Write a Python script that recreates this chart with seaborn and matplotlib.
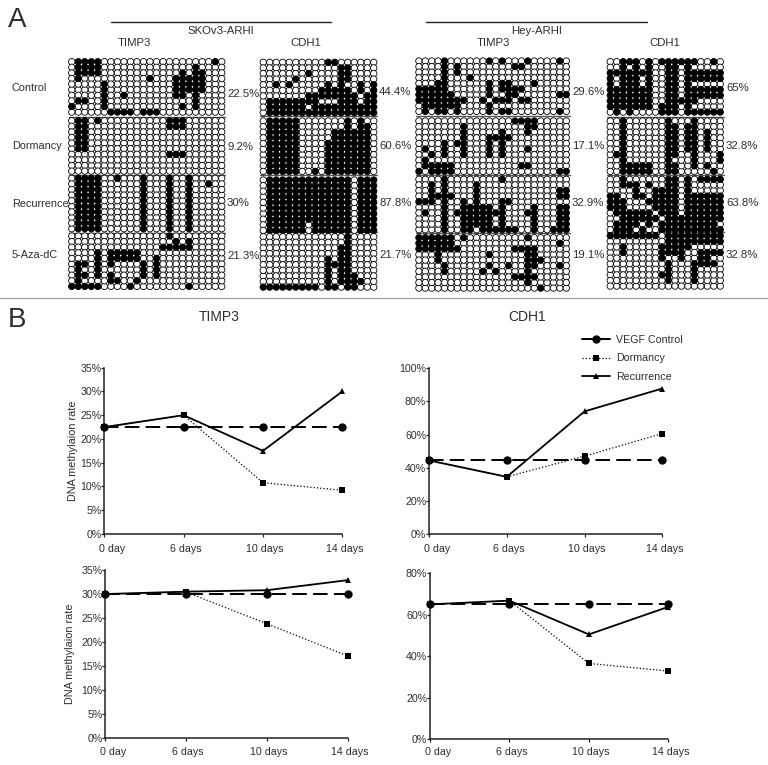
import matplotlib
matplotlib.use("Agg")
import matplotlib.pyplot as plt
import matplotlib.transforms as mtrans
from matplotlib.lines import Line2D
import pandas as pd
import seaborn as sns

# panel A: methylated CpG columns per clone (row), "1-4 22" = columns 1..4 and 22
skov_timp3_control = ["1-4 22", "1-4 19", "1-4 17 19 20", "1 12 16-20", "5 16-20",
                      "5 16-20", "5 8 16 17 19", "1 2 5 19", "0 5 17 19", "6-9 11-13"]
skov_timp3_dormancy = ["1 2 4 15-17", "1 2 15-17", "1 2", "1 2", "1 2",
                       "1 2", "15-17", "", "", ""]
skov_timp3_recurrence = ["1-4 7 11 15 18", "1-4 11 15 18 21", "1-4 11 15 18", "1-4 11 15 18",
                         "1-4 11 15 18", "1-4 11 15 18", "1-4 11 15 18", "1-4 11 15 18",
                         "1-4 11 15 18", "1-4 11 15 18"]
skov_timp3_aza = ["15", "16 18", "14-18", "4 6-10", "4 6-10 13",
                  "1 2 4 6 11 13", "1 4 11 13", "1 2 4 6 11 13", "1 6 7 10", "0-4 9 18"]

skov_cdh1_control = ["10 11", "12 13", "7 12 13", "5 12 13", "2 4 10 12 15 17",
                     "9-13 15 17", "7-14 16 17", "1-8 12-14 16 17", "1-6 8-17", "1-17"]
skov_cdh1_dormancy = ["1-5 13 15", "1-5 13 15 16", "1-5 11-16", "1-5 11-16", "1-5 10-16",
                      "1-5 10-16", "1-5 10-16", "1-5 10-16", "1-5 10-16", "1-5 8 10-16"]
skov_cdh1_recurrence = ["1-13 15-17", "1-13 15-17", "1-13 15-17", "1-13 15-17", "1-13 15-17",
                        "1-13 15-17", "1-13 15-17", "1-13 15-17", "1-6 8-13 15-17", "1-6 8-13 15-17"]
skov_cdh1_aza = ["13", "13", "12 13", "12 13", "10 12 13",
                 "10-13", "10 12 13", "10 12-14", "10 12-15", "0-8 10 11 13 14"]

hey_timp3_control = ["4 11 13 17 22", "4 6 15 16", "4 6", "4 8", "3 4 11 13 14 18",
                     "0-4 11 13-16", "0-5 11 14 15 22 23", "0-7 10 12-14 16 17", "1-6 11", "1 3 4 6 11 13 14 22"]
hey_timp3_dormancy = ["15-18", "7 17 18", "7 13 17", "7 11-14", "4 6 7 11 13",
                      "1 4 7 11 13 17", "2 4 7 11 13", "1", "1 2-5 16 17", "0 2-5 22 23"]
hey_timp3_recurrence = ["4 13", "2 4 9", "2 4 9 22 23", "2-5 9 22 23", "0-2 4 7 9 13 14",
                        "4 7-11 13 18 22 23", "1 4 6-13 17 18 22 23", "4 7-11 13 18 22 23",
                        "4 7-11 13 18 22 23", "4 7 8 10-15 18 21-23"]
hey_timp3_aza = ["0-5 7 17", "0-5 22", "0-6 15-18", "3 11 17 18", "3 17-19",
                 "4 11 14 17 18 22", "4 10 12 17", "15-18", "17", "19"]

hey_cdh1_control = ["2-4 6 8-13 16", "2 4 6 9 10 12", "0-6 9 10 12-17", "0 2-4 6 9 10 12-17",
                    "0 2-4 6 9 10 12", "0-6 9 10 12-17", "0-6 9 10 12-17", "0-6 9-13",
                    "0-6 8-10 12", "1 3 8 9 10 12-17"]
hey_cdh1_dormancy = ["2 9 13", "2 9 10 12 13", "2 9 10 12 13 15", "2 9 10 12 13 15",
                     "2 9 10 12 13 15", "2 9 10 12 13 15", "1 2 9 10 13 17",
                     "2 9 13 17", "2-6 9 10 13 15", "2-6 9 10 16"]
hey_cdh1_recurrence = ["2 9 10 12 14-17", "2-4 6 9 10 12", "4 7-10 12", "0 1 4 5 7-10 12-17",
                       "0-2 6-10 12-17", "0-2 7-10 12-17", "1-6 8-10 12-17", "2-7 9-17",
                       "1-4 6 8-16", "1-3 5 8-17"]
hey_cdh1_aza = ["0-7 9-17", "9-17", "2 8-12", "2 8-11 14-17", "8 11 14 15",
                "9 13-16", "9 13", "8 9 13", "9 13", ""]

grid_rows = ["Control", "Dormancy", "Recurrence", "5-Aza-dC"]
percent_labels = [["22.5%", "9.2%", "30%", "21.3%"],
                  ["44.4%", "60.6%", "87.8%", "21.7%"],
                  ["29.6%", "17.1%", "32.9%", "19.1%"],
                  ["65%", "32.8%", "63.8%", "32.8%"]]
gene_labels = ["TIMP3", "CDH1", "TIMP3", "CDH1"]

# panel B
days = ["0 day", "6 days", "10 days", "14 days"]
timp3_control = [22.5, 22.5, 22.5, 22.5]
timp3_dormancy = [22.5, 25, 10.8, 9.2]
timp3_recurrence = [22.5, 25, 17.5, 30]
cdh1_control = [44.4, 44.4, 44.4, 44.4]
cdh1_dormancy = [44.4, 34.5, 47, 60.6]
cdh1_recurrence = [44.4, 34.5, 74, 87.8]
hey_timp3_ctl_line = [30, 30, 30, 30]
hey_timp3_dor_line = [30, 30.4, 23.8, 17.1]
hey_timp3_rec_line = [30, 30.5, 30.8, 32.9]
hey_cdh1_ctl_line = [65, 65, 65, 65]
hey_cdh1_dor_line = [65, 66.8, 36.5, 32.8]
hey_cdh1_rec_line = [65, 66.8, 50.5, 63.8]

W, H = 768, 765
TXT = "#2e2e2e"

sns.set_theme(style="ticks")
plt.rcParams["font.family"] = ["Liberation Sans", "DejaVu Sans"]

fig = plt.figure(figsize=(W / 100, H / 100), dpi=100)


def px_axes(x0, y0, x1, y1):
    # pixel box with y measured from the top of the image
    return fig.add_axes([x0 / W, 1 - y1 / H, (x1 - x0) / W, (y1 - y0) / H])


def px_text(x, y, s, size=8, ha="left", **kw):
    fig.text(x / W, 1 - y / H, s, fontsize=size, ha=ha, va="center", color=TXT, **kw)


def parse_row(spec):
    cols = []
    for part in spec.split():
        if "-" in part:
            a, b = part.split("-")
            cols.extend(range(int(a), int(b) + 1))
        else:
            cols.append(int(part))
    return cols


def draw_grid(rows, ncols, x0, x1, top):
    records = []
    for r, spec in enumerate(rows):
        filled = parse_row(spec)
        for c in range(ncols):
            records.append({"row": r, "col": c, "state": int(c in filled)})
    df = pd.DataFrame(records).sort_values("state")
    step = 5.6
    ax = px_axes(x0, top - step / 2, x1, top + step * 9.5)
    sns.scatterplot(data=df, x="col", y="row", hue="state", palette={0: "white", 1: "black"},
                    s=21, edgecolor="black", linewidth=0.6, legend=False, clip_on=False, ax=ax)
    ax.set_xlim(-0.5, ncols - 0.5)
    ax.set_ylim(9.5, -0.5)
    ax.axis("off")


grid_columns = [
    ([skov_timp3_control, skov_timp3_dormancy, skov_timp3_recurrence, skov_timp3_aza],
     24, 68.5, 225, [61.7, 120.7, 178.3, 236]),
    ([skov_cdh1_control, skov_cdh1_dormancy, skov_cdh1_recurrence, skov_cdh1_aza],
     18, 260, 377, [62.3, 121, 180, 236.7]),
    ([hey_timp3_control, hey_timp3_dormancy, hey_timp3_recurrence, hey_timp3_aza],
     24, 415.7, 569.5, [61, 121, 179.3, 237.7]),
    ([hey_cdh1_control, hey_cdh1_dormancy, hey_cdh1_recurrence, hey_cdh1_aza],
     18, 607, 723.5, [61.7, 121, 179.3, 235.7]),
]
for grids, ncols, x0, x1, tops in grid_columns:
    for rows, top in zip(grids, tops):
        draw_grid(rows, ncols, x0, x1, top)

# overlay for separators and brackets, in image pixels
over = fig.add_axes([0, 0, 1, 1], zorder=-1)
over.set_xlim(0, W)
over.set_ylim(H, 0)
over.axis("off")
for (_, _, x0, x1, _), seps in zip(grid_columns, [[116.5, 174.5, 233], [115.7, 174.5, 231.5],
                                                  [116, 174.5, 233], [116.5, 174.5, 232]]):
    for y in seps:
        over.plot([x0, x1], [y, y], color="#555555", lw=1.0)
over.plot([0, W], [298, 298], color="#a8a8a8", lw=1.0)
over.plot([111, 331], [22, 22], color="#222222", lw=1.0)
over.plot([426, 647], [22, 22], color="#222222", lw=1.0)

px_text(8, 20, "A", size=20)
px_text(8, 320, "B", size=20)
px_text(221, 31, "SKOv3-ARHI", size=8.2, ha="center")
px_text(537, 31, "Hey-ARHI", size=8.2, ha="center")
for x, s in zip([134, 306, 493, 665], gene_labels):
    px_text(x, 43, s, size=8.2, ha="center")
for y, s in zip([88, 146, 204, 255], grid_rows):
    px_text(12, y, s, size=7.8)
pct_x = [227, 379, 572, 726]
pct_y = [[94, 147, 203, 256], [92, 146, 203, 255], [92, 146, 203, 255], [88, 146, 203, 255]]
for x, ys, labels in zip(pct_x, pct_y, percent_labels):
    for y, s in zip(ys, labels):
        px_text(x, y, s, size=8.2)


def draw_lines(box, ctl, dor, rec, ymax, ystep, ylabel_x=None, xpad=4):
    ax = px_axes(*box)
    sns.lineplot(x=days, y=ctl, color="black", lw=1.4, marker="o", ms=6, mew=0,
                 dashes=(7.5, 3.2), clip_on=False, zorder=3, ax=ax)
    sns.lineplot(x=days, y=dor, color="black", lw=0.9, ls=":", marker="s", ms=4, mew=0,
                 clip_on=False, zorder=4, ax=ax)
    sns.lineplot(x=days, y=rec, color="black", lw=1.3, marker="^", ms=4, mew=0,
                 clip_on=False, zorder=4, ax=ax)
    ax.set_xlim(0, 3)
    ax.set_ylim(0, ymax)
    ticks = list(range(0, ymax + 1, ystep))
    ax.set_yticks(ticks)
    ax.set_yticklabels([f"{t}%" for t in ticks])
    ax.tick_params(axis="both", labelsize=7.7, length=2, width=0.9, color="#222222", labelcolor=TXT)
    ax.tick_params(axis="y", pad=0)
    ax.tick_params(axis="x", pad=xpad)
    for i, lab in enumerate(ax.get_xticklabels()):
        dx = 8 if i == 0 else 2
        lab.set_transform(lab.get_transform() + mtrans.ScaledTranslation(dx / 100, 0, fig.dpi_scale_trans))
    sns.despine(ax=ax)
    for side in ["left", "bottom"]:
        ax.spines[side].set_linewidth(1.1)
        ax.spines[side].set_color("#222222")
    ax.set_xlabel("")
    if ylabel_x is not None:
        ax.set_ylabel("DNA methylaion rate", fontsize=7.8, color=TXT)
        ax.yaxis.set_label_coords((ylabel_x - box[0]) / (box[2] - box[0]), 0.5)
    return ax


draw_lines((104.3, 367.7, 342.3, 534), timp3_control, timp3_dormancy, timp3_recurrence, 35, 5, 78, xpad=5.5)
ax_cdh1 = draw_lines((429, 368.3, 662.3, 534), cdh1_control, cdh1_dormancy, cdh1_recurrence, 100, 20, xpad=5.5)
draw_lines((105.3, 570, 348, 738.3), hey_timp3_ctl_line, hey_timp3_dor_line, hey_timp3_rec_line, 35, 5, 75)
draw_lines((430, 573.3, 668.3, 739), hey_cdh1_ctl_line, hey_cdh1_dor_line, hey_cdh1_rec_line, 80, 20)

px_text(219, 317, "TIMP3", size=10, ha="center")
px_text(526.6, 317, "CDH1", size=10, ha="center")

handles = [Line2D([], [], color="black", lw=1.4, marker="o", ms=6, mew=0),
           Line2D([], [], color="black", lw=0.9, ls=":", marker="s", ms=4, mew=0),
           Line2D([], [], color="black", lw=1.3, marker="^", ms=4, mew=0)]
ax_cdh1.legend(handles, ["VEGF Control", "Dormancy", "Recurrence"], frameon=False, fontsize=7.7,
               labelcolor=TXT, handlelength=2.6, handletextpad=0.6, labelspacing=0.78,
               loc="upper left", bbox_to_anchor=(582 / W, 1 - 335 / H),
               bbox_transform=fig.transFigure, borderpad=0, borderaxespad=0)

fig.savefig("out.png", dpi=100)
